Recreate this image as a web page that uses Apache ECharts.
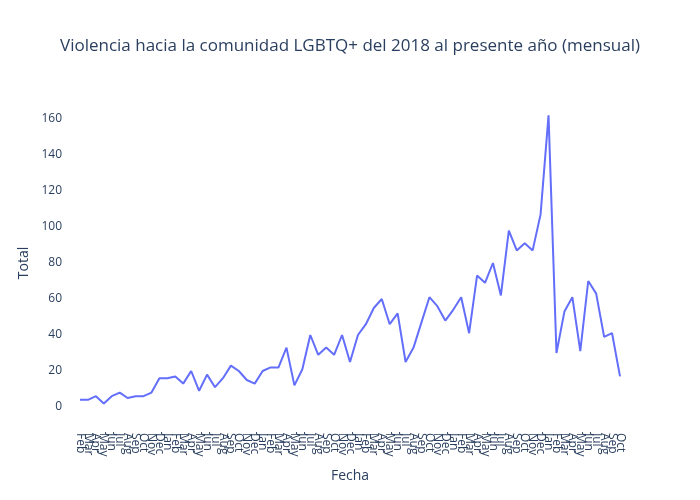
<!DOCTYPE html>
<html>
<head>
<meta charset="utf-8">
<script src="https://cdn.jsdelivr.net/npm/echarts@6/dist/echarts.min.js"></script>
<style>html,body{margin:0;background:#fff}#c{width:700px;height:500px}</style>
</head>
<body>
<div id="c"></div>
<script>
var monthNames = ['Jan', 'Feb', 'Mar', 'Apr', 'May', 'Jun', 'Jul', 'Aug', 'Sep', 'Oct', 'Nov', 'Dec']
var totals = [4, 4, 6, 2, 6, 8, 5, 6, 6, 8, 16, 16, 17, 13, 20, 9, 18, 11, 16, 23,
  20, 15, 13, 20, 22, 22, 33, 12, 21, 40, 29, 33, 29, 40, 25,
  40, 46, 55, 60, 46, 52, 25, 33, 47, 61, 56, 48, 54, 61, 41, 73, 69, 80, 62, 98,
  87, 91, 87, 107, 162, 30, 53, 61, 31, 70, 63, 39, 41, 17]
var yTicks = [0, 20, 40, 60, 80, 100, 120, 140, 160]

// etiquetas de mes, empezando en feb 2018
var fechas = []
for (var i = 0; i < totals.length; i++) {
  fechas.push(monthNames[(i + 1) % 12])
}

var chart = echarts.init(document.getElementById('c'))
var txt = '#2a3f5f'
chart.setOption({
  title: {
    text: 'Violencia hacia la comunidad LGBTQ+ del 2018 al presente año (mensual)',
    left: 'center',
    top: 33,
    textStyle: { fontFamily: 'Open Sans', fontSize: 17, fontWeight: 'normal', color: txt }
  },
  grid: { left: 80, right: 80, top: 83, bottom: 57 },
  xAxis: {
    type: 'category',
    data: fechas,
    boundaryGap: false,
    offset: -14,
    name: 'Fecha',
    nameLocation: 'middle',
    nameGap: 40,
    nameTextStyle: { fontFamily: 'Open Sans', fontSize: 14, color: txt },
    axisLine: { show: false },
    axisTick: { show: false },
    axisLabel: { rotate: -90, interval: 0, margin: 4, fontFamily: 'Open Sans', fontSize: 12, color: txt }
  },
  yAxis: {
    type: 'value',
    min: -20,
    max: 180,
    interval: 20,
    name: 'Total',
    nameLocation: 'middle',
    nameGap: 46,
    nameTextStyle: { fontFamily: 'Open Sans', fontSize: 14, color: txt },
    splitLine: { show: false },
    axisLine: { show: false },
    axisTick: { show: false },
    axisLabel: {
      fontFamily: 'Open Sans', fontSize: 12, color: txt, margin: 18,
      formatter: function (v) { return yTicks.indexOf(v) >= 0 ? String(v) : '' }
    }
  },
  series: [{
    type: 'line',
    data: totals,
    symbol: 'none',
    lineStyle: { color: '#636efa', width: 2 },
    itemStyle: { color: '#636efa' }
  }]
})
</script>
</body>
</html>
